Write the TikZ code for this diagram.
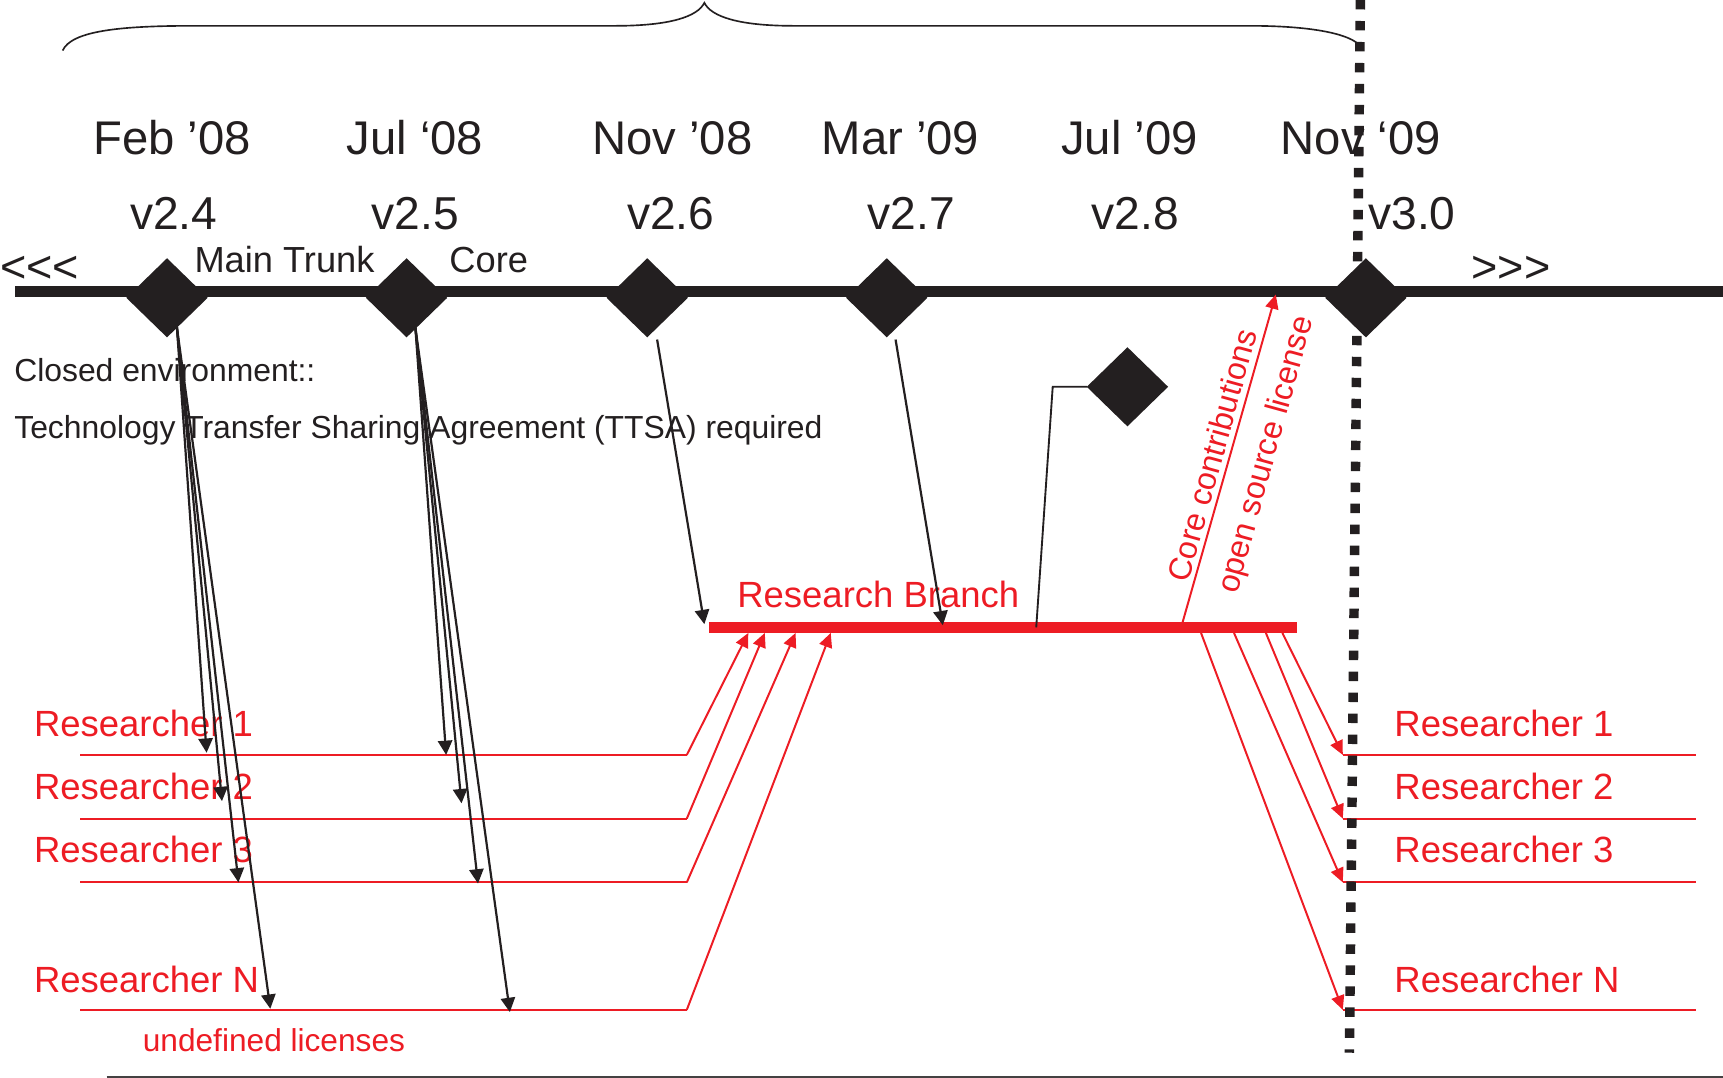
\documentclass[tikz,border=0pt]{standalone}
\usepackage{fontspec}
\setmainfont{Liberation Sans}
\usetikzlibrary{arrows.meta,shapes.geometric}
\definecolor{ink}{HTML}{231F20}
\definecolor{redline}{HTML}{ED1C24}

\begin{document}
\begin{tikzpicture}[x=0.5pt,y=-0.5pt,
  every node/.style={inner sep=0pt, outer sep=0pt},
  milestone/.style={diamond, fill=ink, minimum width=37pt, minimum height=36pt},
  datelabel/.style={anchor=base, text=ink, font=\fontsize{21.5}{25}\selectfont},
  versionlabel/.style={anchor=base, text=ink, font=\fontsize{21}{25}\selectfont},
  notelabel/.style={anchor=base west, text=ink, font=\fontsize{14.5}{17}\selectfont},
  trunklabel/.style={anchor=base west, text=ink, font=\fontsize{16.5}{20}\selectfont},
  ellipsislabel/.style={anchor=base west, text=ink, font=\fontsize{20.5}{24}\selectfont},
  redlabel/.style={anchor=base west, text=redline, font=\fontsize{16.6}{20}\selectfont},
  slantlabel/.style={rotate=74.6, text=redline, font=\fontsize{14.6}{17}\selectfont},
  pull/.style={draw=ink, line width=1pt, -{Triangle[length=6.5pt,width=6.5pt]}},
  push/.style={draw=redline, line width=0.9pt, -{Triangle[length=6.5pt,width=6pt]}},
  rowline/.style={draw=redline, line width=0.9pt},
]
\useasboundingbox (0,0) rectangle (1568,981);

% curly brace spanning the release period
\draw[ink, line width=0.75pt] (57,46) .. controls (65,28) and (110,23.5) .. (175,23.5)
  -- (560,23.5) .. controls (610,23.5) and (635,15) .. (641,2.5)
  .. controls (647,15) and (672,23.5) .. (722,23.5)
  -- (1138,23.5) .. controls (1190,23.5) and (1225,30) .. (1236,40);

% main trunk
\coordinate (trunkL) at (14,265);
\coordinate (trunkR) at (1568,265);
\draw[ink, line width=5pt] (trunkL) -- (trunkR);

% release milestones
\node[milestone] (d24) at (152,271) {};
\node[milestone] (d25) at (370,271) {};
\node[milestone] (d26) at (589,271) {};
\node[milestone] (d27) at (807,271) {};
\node[milestone] (d30) at (1243,271) {};
\node[milestone] (d28) at (1026,352) {};

% dates and versions
\node[datelabel] (t1) at (156.5,141) {Feb ’08};
\node[datelabel] (t2) at (377.5,141) {Jul ‘08};
\node[datelabel] (t3) at (612,141) {Nov ’08};
\node[datelabel] (t4) at (819.5,141) {Mar ’09};
\node[datelabel] (t5) at (1028,141) {Jul ’09};
\node[datelabel] (t6) at (1238.5,141) {Nov ‘09};
\node[versionlabel] (v1) at (158,209) {v2.4};
\node[versionlabel] (v2) at (378,209) {v2.5};
\node[versionlabel] (v3) at (610.5,209) {v2.6};
\node[versionlabel] (v4) at (829.5,209) {v2.7};
\node[versionlabel] (v5) at (1033,209) {v2.8};
\node[versionlabel] (v6) at (1285,209) {v3.0};

% kerns keep the angle brackets from joining into guillemets
\node[ellipsislabel] (past) at (0,257) {<\kern0pt<\kern0pt<};
\node[ellipsislabel] (future) at (1339,257) {>\kern0pt>\kern0pt>};
\node[trunklabel] (trunkname) at (177,248) {Main Trunk};
\node[trunklabel] (corename) at (409,248) {Core};

\node[notelabel] (closed) at (13,347) {Closed environment::};
\node[notelabel] (ttsa) at (13,399) {Technology Transfer Sharing Agreement (TTSA) required};

% research branch
\coordinate (brL) at (645,571);
\coordinate (brR) at (1180,571);
\draw[redline, line width=4.75pt] (brL) -- (brR);
\node[redlabel] (brname) at (671,553) {Research Branch};

% researcher rows, left (undefined licenses) and right (open source)
\foreach \i/\y/\b/\tx/\sx/\name in {1/687/670/681/1167/Researcher 1,
                                    2/745/728/696/1152/Researcher 2,
                                    3/803/785/724/1123/Researcher 3,
                                    4/919/903/756/1093/Researcher N}{
  \coordinate (L\i) at (73,\y);
  \coordinate (K\i) at (625,\y);
  \coordinate (T\i) at (\tx,576);
  \coordinate (S\i) at (\sx,576);
  \coordinate (Q\i) at (1222,\y);
  \coordinate (E\i) at (1543,\y);
  \node[redlabel] (rl\i) at (31,\b) {\name};
  \node[redlabel] (rr\i) at (1269,\b) {\name};
  \draw[rowline] (L\i) -- (K\i);
  \draw[push] (K\i) -- (T\i);
  \draw[push] (S\i) -- (Q\i);
  \draw[rowline] (Q\i) -- (E\i);
}
\node[anchor=base west, text=redline, font=\fontsize{14.4}{17}\selectfont] (undef) at (130,957) {undefined licenses};

% checkouts from v2.4 and v2.5 to the researchers
\coordinate (fromA) at (161,298);
\coordinate (fromB) at (378,298);
\foreach \i/\ax/\ay/\bx/\by in {1/188/685/406/687, 2/202/729/420/731,
                                3/217/803/435/804, 4/246/918/464/921}{
  \coordinate (a\i) at (\ax,\ay);
  \coordinate (b\i) at (\bx,\by);
  \draw[pull] (fromA) -- (a\i);
  \draw[pull] (fromB) -- (b\i);
}

% merges from the trunk into the research branch
\coordinate (fromC) at (598,309);
\coordinate (toC) at (641,568);
\coordinate (fromD) at (815,309);
\coordinate (toD) at (858,569);
\draw[pull] (fromC) -- (toC);
\draw[pull] (fromD) -- (toD);

% v2.8 side release attached to the branch
\coordinate (bend) at (958,352);
\coordinate (land) at (943,571);
\draw[ink, line width=0.85pt] (d28.west) -- (bend) -- (land);

% core contributions back into the trunk
\coordinate (cc0) at (1076,567);
\coordinate (cc1) at (1161,268);
\draw[push] (cc0) -- (cc1);
\node[slantlabel] (cctext) at (1103,414) {Core contributions};
\node[slantlabel] (ostext) at (1153,414) {open source license};

% cut-off line at v3.0
\coordinate (cutTop) at (1238,0);
\coordinate (cutBot) at (1228,958);
\draw[ink, line width=4.3pt, dash pattern=on 4.3pt off 5.25pt] (cutTop) -- (cutBot);

% base rule
\coordinate (baseL) at (97,980);
\coordinate (baseR) at (1568,980);
\draw[ink!85, line width=1pt] (baseL) -- (baseR);
\end{tikzpicture}
\end{document}
